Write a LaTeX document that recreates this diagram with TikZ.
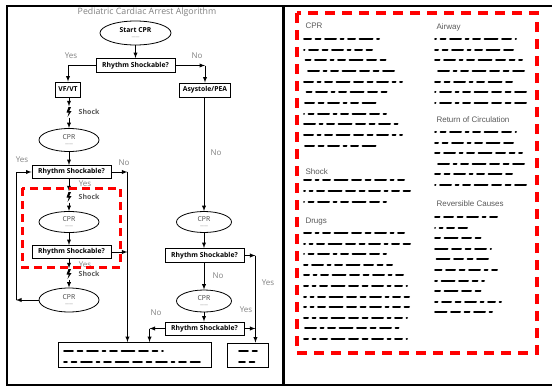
\documentclass[tikz,border=0pt]{standalone}
\usepackage{fontspec}
\setmainfont{Open Sans}
\newfontfamily\headfont{Liberation Sans}
\usetikzlibrary{shapes.geometric,shadows,positioning}
\newcommand\tinydash{{\fontsize{4}{4}\selectfont\mdseries\color{black!55}------}}

\begin{document}
\begin{tikzpicture}[
		x=1pt, y=-1pt,
		rec/.style   = {draw, rectangle, line width=0.9pt, fill=white, font=\fontsize{6.8}{8}\selectfont\bfseries,
			inner xsep=3pt, inner ysep=0pt, minimum height=14pt,
			drop shadow={shadow xshift=0.8pt, shadow yshift=-0.8pt, opacity=1, fill=black}},
		ask/.style   = {rec, minimum width=79pt},
		oval/.style  = {draw, ellipse, line width=0.8pt, fill=white, minimum width=60pt, minimum height=23pt,
			inner sep=0pt, align=center, font=\fontsize{6.8}{7}\selectfont, text=black!75},
		bolt/.style  = {minimum width=6pt, minimum height=11pt, inner sep=0pt,
			label={[font=\fontsize{7}{8}\selectfont\bfseries, text=black!65, label distance=3pt]right:Shock},
			path picture={\fill ([shift={(-0.5pt,5pt)}]path picture bounding box.center) -- ++(2.5pt,0pt)
				-- ++(-1.7pt,-4pt) -- ++(2.2pt,0pt) -- ++(-4pt,-6pt) -- ++(1.3pt,4.5pt) -- ++(-2.3pt,0pt) -- cycle;}},
		note/.style  = {font=\fontsize{8}{9}\selectfont, text=black!50},
		head/.style  = {anchor=west, font=\headfont\fontsize{8}{9}\selectfont, text=black!65},
		scrib/.style = {line width=2pt, line cap=round,
			dash pattern=on 9pt off 4.5pt on 5pt off 4.5pt on 11pt off 4.5pt on 3pt off 4.5pt on 7pt off 4.5pt on 13pt off 4.5pt},
		redbox/.style = {draw=red, line width=3pt},
		link/.style  = {->, line width=0.9pt},
		>=latex]
		
		\useasboundingbox (0,0) rectangle (552,391);
		
		% the two panels
		\draw[line width=1.2pt] (7,6) rectangle (283,385);
		\draw[line width=1.2pt] (552,6) -- (284,6) -- (284,385) -- (552,385);
		
		\node[note, font=\fontsize{8.8}{10}\selectfont] (title) at (147,12) {Pediatric Cardiac Arrest Algorithm};
		
		% first check
		\node[oval, minimum width=71pt, minimum height=24pt, text=black, font=\fontsize{6.8}{7}\selectfont\bfseries] (start) at (135.5,33) {Start CPR\\[-1pt]\tinydash};
		\node[ask] (r1) at (135.5,65.5) {Rhythm Shockable?};
		\node[rec, minimum height=15pt] (vf) at (68,89.5) {VF/VT};
		\node[rec] (asys) at (205,90) {Asystole/PEA};
		
		% shockable column
		\node[bolt] (sh1) at (69,112) {};
		\node[oval] (cpr1) at (69,140) {CPR\\[-1pt]\tinydash};
		\node[ask, minimum height=13pt] (r2) at (71.5,172) {Rhythm Shockable?};
		\node[bolt] (sh2) at (69,197) {};
		\node[oval, minimum height=21pt] (cpr2) at (69,222) {CPR\\[-1pt]\tinydash};
		\node[ask, minimum height=13pt] (r3) at (71.5,252) {Rhythm Shockable?};
		\node[bolt] (sh3) at (69,274) {};
		\node[oval, minimum height=24pt] (cpr3) at (69,300) {CPR\\[-1pt]\tinydash};
		
		% non shockable column
		\node[oval, minimum width=55pt, minimum height=21pt] (cpr4) at (204,222) {CPR\\[-1pt]\tinydash};
		\node[ask] (r4) at (204.5,255.5) {Rhythm Shockable?};
		\node[oval, minimum width=55pt, minimum height=22pt] (cpr5) at (204,301) {CPR\\[-1pt]\tinydash};
		\node[ask, minimum height=13pt] (r5) at (204.5,328.5) {Rhythm Shockable?};
		
		% end boxes
		\node[rec, minimum width=153pt, minimum height=25pt] (out1) at (134.5,355) {};
		\node[rec, minimum width=41pt, minimum height=24pt] (out2) at (248,355) {};
		
		% connectors
		\draw[link] (start) -- (r1);
		\draw[link] (r1.west) -| (vf.north);
		\coordinate (k1) at (asys.north |- r1.east);
		\draw[link] (r1.east) -- (k1);
		\draw[link] (k1) -- (asys.north);
		\draw[link] (vf.south -| sh1) -- (sh1);
		\draw[link] (sh1) -- (cpr1);
		\draw[link] (cpr1) -- (r2.north -| cpr1);
		\draw[link] (r2.south -| sh2) -- (sh2);
		\draw[link] (sh2) -- (cpr2);
		\draw[link] (cpr2) -- (r3.north -| cpr2);
		\draw[link] (r3.south -| sh3) -- (sh3);
		\draw[link] (sh3) -- (cpr3);
		
		\coordinate (k2) at (16,300);
		\draw[link] (cpr3.west) -- (k2);
		\draw[link] (k2) |- (r2.west);
		
		\coordinate (k4) at ([xshift=16pt]r2.east);
		\draw[link] (r2.east) -- (k4);
		\draw[link] (k4) -- (k4 |- out1.north);
		\draw[link] (r3.east) -- (r3.east -| k4);
		
		\draw[link] (asys.south -| cpr4) -- (cpr4);
		\draw[link] (cpr4) -- (r4.north -| cpr4);
		\draw[link] (r4.south -| cpr5) -- (cpr5);
		\draw[link] (cpr5) -- (r5.north -| cpr5);
		
		\coordinate (k6) at ([xshift=11pt]r4.east);
		\draw[link] (r4.east) -- (k6);
		\draw[link] (k6) -- (k6 |- out2.north);
		\draw[link] (r5.east) -- (r5.east -| k6);
		\coordinate (k7) at ([xshift=-15pt]r5.west);
		\draw[link] (r5.west) -- (k7);
		\draw[link] (k7) -- (k7 |- out1.north);
		
		% yes / no labels
		\node[note] (y1) at (71,56) {Yes};
		\node[note] (n1) at (197,56) {No};
		\node[note] (y2) at (22,160) {Yes};
		\node[note] (n2) at (124,163) {No};
		\node[note] (n3) at (216,153) {No};
		\node[note] (y3) at (85,184) {Yes};
		\node[note] (y4) at (85,265) {Yes};
		\node[note] (n4) at (218,276) {No};
		\node[note] (y5) at (268,283) {Yes};
		\node[note] (y6) at (246,310) {Yes};
		\node[note] (n5) at (156,313) {No};
		
		% text inside the end boxes
		\draw[scrib, line width=1.8pt] (64,351) -- ++(99,0);
		\draw[scrib, line width=1.8pt, dash phase=6pt] (64,362) -- ++(136,0);
		\draw[scrib, line width=1.8pt] (239,351) -- ++(18,0);
		\draw[scrib, line width=1.8pt, dash phase=3pt] (239,362) -- ++(18,0);
		
		\draw[redbox, dash pattern=on 8pt off 5pt] (22,188) rectangle (120,267);
		
		% right panel
		\node[head] (hcpr) at (302,26) {CPR};
		\foreach \y/\w in {39/77,49.7/70,60.3/87,71/94,81.7/100,92.3/86,103/74,113.7/84,124.3/98,135/100,145.7/74}
		\draw[scrib, dash phase=\w pt] (304,\y) -- ++(\w-2,0);
		
		\node[head] (hshock) at (302,172) {Shock};
		\foreach \y/\w in {180/102,191/108,202/84}
		\draw[scrib, dash phase=\w pt] (304,\y) -- ++(\w-2,0);
		
		\node[head] (hdrugs) at (302,222) {Drugs};
		\foreach \y/\w in {233/102,243.6/108,254.2/84,264.8/90,275.4/104,286/105,296.6/107,307.2/107,317.8/105,328.4/97,339/105}
		\draw[scrib, dash phase=\w pt] (304,\y) -- ++(\w-2,0);
		
		\node[head] (hair) at (433,27) {Airway};
		\foreach \y/\w in {39/83,49.7/81,60.3/89,71/95,81.7/79,92.3/93,103/93}
		\draw[scrib, dash phase=\w pt] (435,\y) -- ++(\w-2,0);
		
		\node[head] (hret) at (433,120) {Return of Circulation};
		\foreach \y/\w in {132/83,142.6/81,153.2/89,163.8/95,174.4/79,185/93}
		\draw[scrib, dash phase=\w pt] (435,\y) -- ++(\w-2,0);
		
		\node[head] (hrev) at (433,204) {Reversible Causes};
		\foreach \y/\w in {217/66,227.6/34,238.2/48,248.8/58,259.4/56,270/64,280.6/51,291.2/48,301.8/68,312.4/59}
		\draw[scrib, dash phase=\w pt] (435,\y) -- ++(\w-2,0);
		
		\draw[redbox, line width=3.3pt, dash pattern=on 10pt off 7pt] (297,13) rectangle (537,353);
	\end{tikzpicture}
\end{document}
